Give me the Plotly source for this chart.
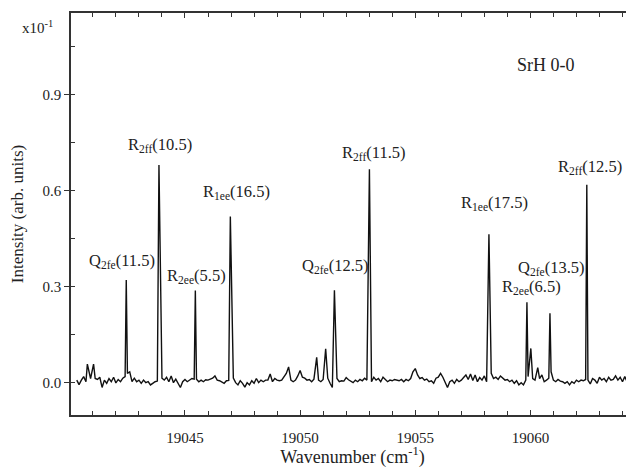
import numpy as np
import plotly.graph_objects as go

# ---- data ----
baseline_start = 19040.3
baseline_step = 0.1
baseline_values = [
    0.009, -0.005, 0.009, 0.020, 0.004, 0.009, 0.014, 0.012, 0.014, 0.011,   # 19040.3 - 19041.2
    0.018, -0.014, 0.009, -0.001, 0.014, 0.004, 0.018, 0.000, 0.011, 0.004,  # 19041.3 - 19042.2
    0.015, 0.020, 0.030, 0.035, 0.004, 0.015, 0.004, 0.009, -0.001, 0.009,   # 19042.3 - 19043.2
    0.001, 0.004, -0.006, -0.001, 0.004, 0.006, 0.020, 0.015, 0.009, 0.018,  # 19043.3 - 19044.2
    0.004, 0.022, 0.001, 0.012, -0.001, -0.014, 0.004, 0.011, 0.004, 0.009,  # 19044.3 - 19045.2
    0.014, 0.012, 0.012, 0.004, 0.009, 0.004, 0.010, 0.009, 0.012, 0.015,   # 19045.3 - 19046.2
    0.022, 0.009, 0.007, 0.004, -0.001, 0.007, 0.008, 0.010, 0.015, 0.001,   # 19046.3 - 19047.2
    -0.006, 0.007, -0.001, -0.013, 0.001, -0.006, 0.007, -0.001, 0.014, 0.001,  # 19047.3 - 19048.2
    0.009, 0.004, 0.009, 0.009, 0.028, 0.004, 0.014, 0.009, 0.007, 0.009,   # 19048.3 - 19049.2
    0.020, 0.030, 0.050, 0.009, 0.004, 0.009, 0.022, 0.039, 0.018, 0.015,   # 19049.3 - 19050.2
    0.009, 0.011, 0.004, 0.012, 0.010, 0.009, 0.004, 0.011, 0.020, 0.015,   # 19050.3 - 19051.2
    -0.001, -0.014, 0.015, 0.014, 0.004, 0.007, 0.006, 0.017, 0.010, 0.004,  # 19051.3 - 19052.2
    0.001, 0.009, 0.004, 0.011, 0.007, 0.015, 0.009, 0.010, 0.004, 0.018,   # 19052.3 - 19053.2
    0.009, 0.014, 0.004, 0.018, 0.011, 0.004, 0.009, 0.007, 0.011, 0.009,   # 19053.3 - 19054.2
    0.007, 0.011, 0.004, 0.011, 0.007, 0.014, 0.035, 0.045, 0.025, 0.014,   # 19054.3 - 19055.2
    0.017, 0.009, 0.012, 0.004, 0.007, -0.001, 0.015, 0.018, 0.030, 0.018,  # 19055.3 - 19056.2
    0.004, -0.014, 0.004, 0.009, -0.001, 0.011, 0.004, 0.009, 0.017, 0.025,  # 19056.3 - 19057.2
    0.011, 0.028, 0.008, 0.025, 0.004, 0.017, 0.009, 0.022, 0.004, 0.020,   # 19057.3 - 19058.2
    0.030, 0.014, 0.018, 0.011, 0.022, 0.014, 0.009, 0.011, 0.004, 0.009,   # 19058.3 - 19059.2
    -0.001, 0.007, -0.006, 0.001, -0.006, 0.009, 0.020, 0.015, 0.014, 0.009,  # 19059.3 - 19060.2
    0.020, 0.014, 0.025, 0.004, 0.009, 0.015, 0.035, 0.009, 0.004, 0.011,   # 19060.3 - 19061.2
    0.006, 0.004, -0.001, 0.004, -0.006, 0.004, -0.001, 0.009, 0.004, 0.009,  # 19061.3 - 19062.2
    0.007, 0.011, 0.009, -0.003, 0.014, 0.009, -0.001, 0.018, 0.009, 0.014,  # 19062.3 - 19063.2
    0.004, 0.018, 0.009, 0.011, 0.022, 0.009, 0.018, 0.004, 0.020, 0.004,   # 19063.3 - 19064.2
    0.018, 0.011, 0.012,                                                     # 19064.3 - 19064.5
]

peak_positions = [19040.76, 19041.03, 19042.45, 19043.87, 19045.45, 19046.97,
                  19050.72, 19051.11, 19051.49, 19053.01, 19058.20, 19059.85,
                  19060.02, 19060.32, 19060.85, 19062.45]
peak_heights = [0.059, 0.059, 0.322, 0.681, 0.289, 0.520,
                0.080, 0.107, 0.290, 0.668, 0.465, 0.252,
                0.108, 0.048, 0.218, 0.619]

label_texts = ["Q<sub>2fe</sub>(11.5)", "R<sub>2ff</sub>(10.5)", "R<sub>2ee</sub>(5.5)",
               "R<sub>1ee</sub>(16.5)", "Q<sub>2fe</sub>(12.5)", "R<sub>2ff</sub>(11.5)",
               "R<sub>1ee</sub>(17.5)", "R<sub>2ee</sub>(6.5)", "Q<sub>2fe</sub>(13.5)",
               "R<sub>2ff</sub>(12.5)"]
label_x = [19042.27, 19043.92, 19045.48, 19047.22, 19051.52, 19053.21,
           19058.42, 19060.03, 19060.90, 19062.60]
label_y = [0.381, 0.744, 0.334, 0.597, 0.366, 0.719, 0.5625, 0.300, 0.359, 0.675]

x_ticks = [19045, 19050, 19055, 19060]
y_ticks = [0.0, 0.3, 0.6, 0.9]

# ---- assemble spectrum ----
bx = baseline_start + baseline_step * np.arange(len(baseline_values))
by = np.array(baseline_values)
keep = np.ones(len(bx), dtype=bool)
for c in peak_positions:
    keep &= np.abs(bx - c) >= 0.045
xs = np.concatenate([bx[keep], np.array(peak_positions)])
ys = np.concatenate([by[keep], np.array(peak_heights)])
order = np.argsort(xs)
xs, ys = xs[order], ys[order]

FONT = "Liberation Serif"
AX = "#333333"

fig = go.Figure()
fig.add_trace(go.Scatter(x=xs, y=ys, mode="lines",
                         line=dict(color="#111111", width=1.4),
                         hoverinfo="skip", showlegend=False))

for t, lx, ly in zip(label_texts, label_x, label_y):
    fig.add_annotation(x=lx, y=ly, text=t, showarrow=False,
                       font=dict(family=FONT, size=16.5, color="#222222"),
                       xanchor="center", yanchor="middle")

fig.add_annotation(x=0.8437, y=0.8706, xref="paper", yref="paper", text="SrH 0-0",
                   showarrow=False, font=dict(family=FONT, size=18, color="#222222"),
                   xanchor="center", yanchor="middle")
fig.add_annotation(x=-0.028, y=0.965, xref="paper", yref="paper", text="x10<sup>-1</sup>",
                   showarrow=False, font=dict(family=FONT, size=15, color="#222222"),
                   xanchor="right", yanchor="middle")

# page body adds an 8px offset, so the figure is 8px smaller and shifted
fig.update_layout(
    width=626, height=460,
    margin=dict(l=63, r=0, t=5, b=53, autoexpand=False),
    plot_bgcolor="white", paper_bgcolor="white",
    font=dict(family=FONT, size=15, color="#222222"),
    showlegend=False,
)
fig.update_xaxes(
    range=[19040.05, 19064.5], tickvals=x_ticks, tickformat="d",
    ticks="inside", ticklen=5, tickwidth=1.2, tickcolor=AX,
    minor=dict(dtick=1, tick0=19040, ticks="inside", ticklen=4, tickwidth=1.2, tickcolor=AX),
    showline=True, linecolor=AX, linewidth=1.5, mirror="ticks",
    showgrid=False, zeroline=False, ticklabelstandoff=8,
    title=dict(text="Wavenumber (cm<sup>-1</sup>)", font=dict(family=FONT, size=18), standoff=4),
)
fig.update_yaxes(
    range=[-0.1, 1.156], tickvals=y_ticks, tickformat=".1f",
    ticks="outside", ticklen=5, tickwidth=1.2, tickcolor=AX,
    minor=dict(dtick=0.15, tick0=0, ticks="inside", ticklen=4, tickwidth=1.2, tickcolor=AX),
    showline=True, linecolor=AX, linewidth=1.5, mirror=False,
    showgrid=False, zeroline=False,
    title=dict(text="Intensity (arb. units)", font=dict(family=FONT, size=17), standoff=16),
)

fig.write_html("out.html")
